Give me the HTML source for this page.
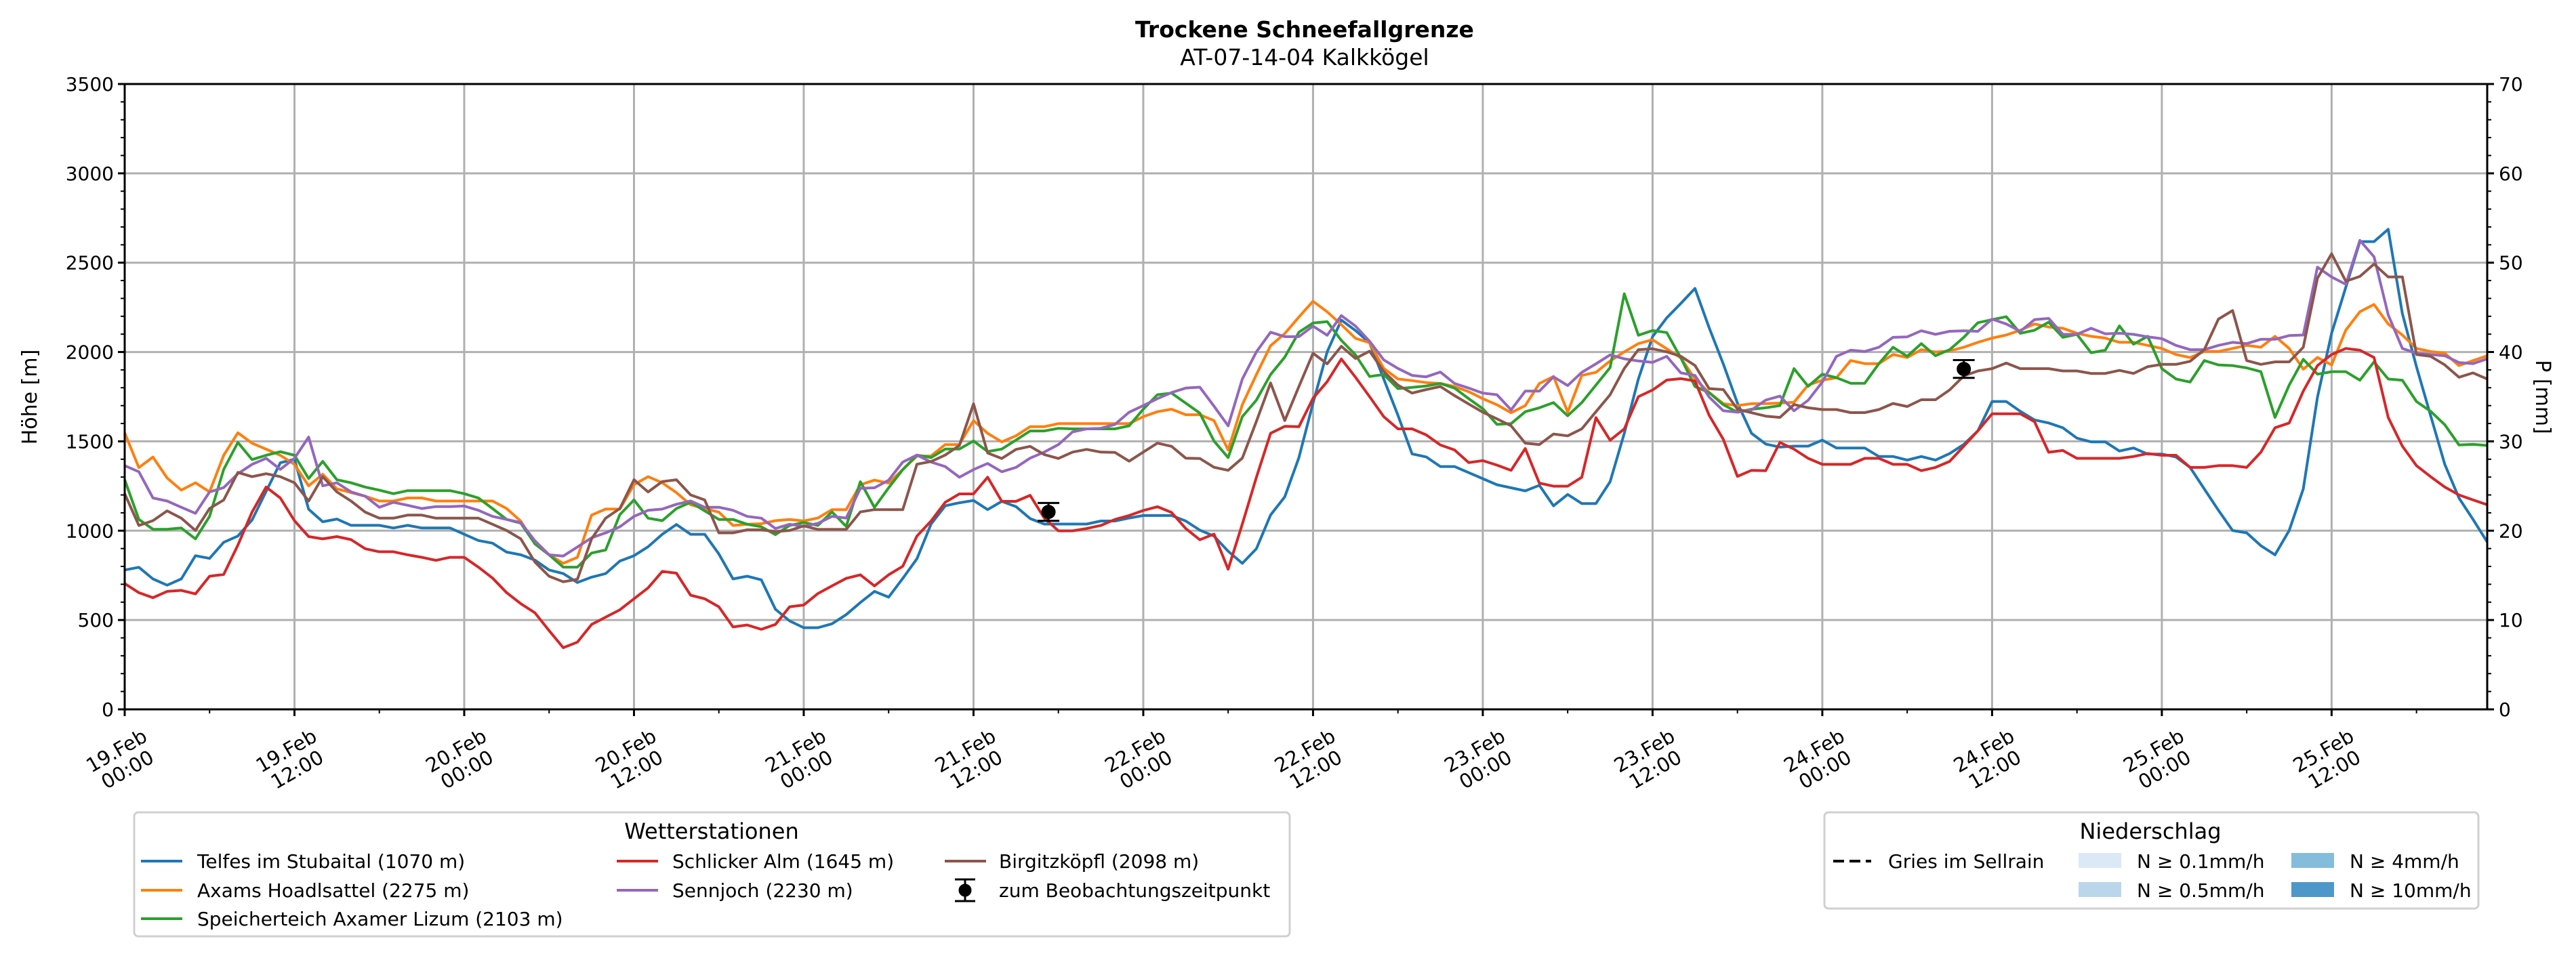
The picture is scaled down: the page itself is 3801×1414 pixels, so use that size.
<!DOCTYPE html>
<html><head><meta charset="utf-8"><style>
html,body{margin:0;padding:0;background:#fff}
svg{display:block;font-family:"DejaVu Sans","Liberation Sans",sans-serif}
</style></head><body>
<svg id="chart" width="3801" height="1414" viewBox="0 0 3801 1414" xmlns="http://www.w3.org/2000/svg">
<text x="1925" y="55" text-anchor="middle" font-size="33" font-weight="bold">Trockene Schneefallgrenze</text>
<text x="1925" y="96" text-anchor="middle" font-size="33">AT-07-14-04 Kalkkögel</text>
<g id="grid"></g>
<g id="series"></g>
<g id="axes"></g>
<text transform="translate(54,586) rotate(-90)" text-anchor="middle" font-size="30">Höhe [m]</text>
<text transform="translate(3742,586) rotate(90)" text-anchor="middle" font-size="30">P [mm]</text>
<g>
<rect x="198" y="1199" width="1705" height="183" rx="6" fill="#fff" stroke="#d0d0d0" stroke-width="3"/>
<text x="1050" y="1238" text-anchor="middle" font-size="32">Wetterstationen</text>
<g font-size="28">
<line x1="208" y1="1271" x2="269" y2="1271" stroke="#1f77b4" stroke-width="4"/>
<text x="291" y="1281">Telfes im Stubaital (1070 m)</text>
<line x1="208" y1="1314" x2="269" y2="1314" stroke="#ff7f0e" stroke-width="4"/>
<text x="291" y="1324">Axams Hoadlsattel (2275 m)</text>
<line x1="208" y1="1356" x2="269" y2="1356" stroke="#2ca02c" stroke-width="4"/>
<text x="291" y="1366">Speicherteich Axamer Lizum (2103 m)</text>
<line x1="910" y1="1271" x2="971" y2="1271" stroke="#d62728" stroke-width="4"/>
<text x="992" y="1281">Schlicker Alm (1645 m)</text>
<line x1="910" y1="1314" x2="971" y2="1314" stroke="#9467bd" stroke-width="4"/>
<text x="992" y="1324">Sennjoch (2230 m)</text>
<line x1="1394" y1="1271" x2="1455" y2="1271" stroke="#8c564b" stroke-width="4"/>
<text x="1474" y="1281">Birgitzköpfl (2098 m)</text>
<g stroke="#000" stroke-width="3">
<line x1="1424" y1="1298" x2="1424" y2="1330"/><line x1="1409" y1="1298" x2="1439" y2="1298"/><line x1="1409" y1="1330" x2="1439" y2="1330"/>
<circle cx="1424" cy="1314" r="8" fill="#000"/></g>
<text x="1474" y="1324">zum Beobachtungszeitpunkt</text>
</g></g>
<g>
<rect x="2692" y="1199" width="965" height="142" rx="6" fill="#fff" stroke="#d0d0d0" stroke-width="3"/>
<text x="3173" y="1238" text-anchor="middle" font-size="32">Niederschlag</text>
<g font-size="28">
<line x1="2705" y1="1271" x2="2761" y2="1271" stroke="#000" stroke-width="4" stroke-dasharray="16,8"/>
<text x="2786" y="1281">Gries im Sellrain</text>
<rect x="3067" y="1259" width="63" height="22" fill="#dbe9f6"/>
<text x="3153" y="1281">N ≥ 0.1mm/h</text>
<rect x="3067" y="1302" width="63" height="22" fill="#bad6eb"/>
<text x="3153" y="1324">N ≥ 0.5mm/h</text>
<rect x="3381" y="1259" width="63" height="22" fill="#84bcdb"/>
<text x="3467" y="1281">N ≥ 4mm/h</text>
<rect x="3381" y="1302" width="63" height="22" fill="#4d98c9"/>
<text x="3467" y="1324">N ≥ 10mm/h</text>
</g></g>
</svg>
<script>
const xTickLabels1 = ["19.Feb","19.Feb","20.Feb","20.Feb","21.Feb","21.Feb","22.Feb","22.Feb","23.Feb","23.Feb","24.Feb","24.Feb","25.Feb","25.Feb"];
const xTickLabels2 = ["00:00","12:00","00:00","12:00","00:00","12:00","00:00","12:00","00:00","12:00","00:00","12:00","00:00","12:00"];
const yTicks = [0,500,1000,1500,2000,2500,3000,3500];
const y2Ticks = [0,10,20,30,40,50,60,70];
const telfes = [780,795,730,695,730,860,845,935,970,1060,1220,1380,1400,1120,1050,1065,1030,1030,1030,1015,1030,1015,1015,1015,980,945,930,880,865,835,780,760,710,740,760,830,860,910,980,1035,980,980,870,730,745,725,560,495,
457,457,479,530,598,660,628,733,843,1037,1139,1156,1169,1118,1164,1135,1068,1037,1037,1037,1037,1054,1054,1071,1085,1085,1085,1054,1003,970,885,817,899,1088,1189,
1409,1714,2001,2179,2120,2052,1849,1646,1430,1413,1359,1359,1325,1291,1257,1240,1223,1254,1139,1203,1152,1152,1274,1545,1849,2086,2191,2272,2356,2136,1933,1714,1545,1485,1468,
1473,1473,1507,1463,1463,1463,1415,1415,1395,1415,1395,1432,1483,1559,1723,1723,1668,1620,1603,1576,1518,1497,1497,1446,1463,1429,1429,1412,1354,1234,1114,1001,988,916,865,1001,1234,1747,2105,2362,2618,2618,2687,2215,1918,1644,1371,1183,1063,937];
const axams = [1548,1353,1412,1295,1227,1268,1217,1422,1548,1490,1456,1422,1371,1251,1316,1234,1213,1193,1166,1166,1183,1183,1166,1166,1166,1166,1166,1124,1053,926,865,817,851,1087,1121,1121,1258,1302,1268,1213,1145,1124,1104,1029,1036,1039,1056,1063,
1054,1071,1118,1118,1257,1283,1266,1342,1418,1418,1482,1482,1616,1545,1497,1531,1582,1582,1599,1599,1599,1599,1599,1599,1638,1666,1680,1649,1649,1616,1452,1705,1874,2035,2103,
2196,2284,2225,2153,2077,2052,1908,1849,1840,1829,1824,1807,1778,1739,1705,1660,1700,1824,1863,1663,1869,1886,1950,2001,2047,2069,2018,1967,1849,1773,1711,1700,1711,1711,1714,
1719,1815,1842,1856,1952,1935,1935,1986,1969,2013,2000,2006,2027,2054,2078,2095,2122,2157,2140,2133,2105,2088,2078,2054,2054,2037,2020,1986,1969,2003,2003,2020,2037,2027,2088,2020,1904,1969,1928,2122,2225,2266,2157,2095,2020,2003,1993,1924,1952,1979];
const speicherteich = [1285,1063,1008,1008,1015,954,1080,1343,1494,1398,1422,1442,1422,1292,1388,1285,1268,1244,1227,1207,1224,1224,1224,1224,1207,1183,1124,1063,1042,926,865,796,796,875,892,1090,1172,1070,1056,1124,1159,1111,1063,1063,1036,1022,978,1029,
1046,1029,1105,1024,1274,1130,1240,1342,1423,1409,1457,1457,1502,1443,1457,1507,1558,1558,1573,1570,1570,1570,1570,1587,1680,1761,1770,1714,1658,1502,1409,1638,1731,1874,1971,
2111,2162,2170,2065,1984,1863,1874,1795,1802,1810,1824,1798,1739,1683,1595,1599,1666,1688,1717,1643,1717,1815,1913,2326,2094,2120,2109,1967,1807,1773,1705,1663,1680,1688,1700,
1907,1808,1876,1856,1825,1825,1935,2027,1976,2047,1979,2013,2082,2164,2181,2198,2105,2122,2167,2082,2099,1996,2010,2146,2044,2088,1907,1849,1832,1952,1928,1924,1911,1890,1634,1815,1959,1876,1890,1890,1842,1945,1849,1842,1723,1668,1593,1480,1483,1477];
const schlicker = [704,653,625,660,666,646,745,755,919,1104,1244,1183,1056,967,954,967,950,899,882,882,865,851,834,851,851,796,735,653,591,540,441,345,376,475,516,557,619,680,772,762,639,619,574,461,472,448,475,574,
584,648,691,733,753,691,753,801,970,1054,1159,1206,1206,1299,1164,1164,1198,1071,999,999,1012,1029,1063,1085,1113,1134,1102,1012,949,981,784,1037,1299,1545,1584,
1582,1741,1834,1961,1859,1750,1638,1570,1570,1536,1480,1452,1381,1392,1367,1338,1460,1266,1249,1249,1299,1633,1506,1570,1750,1787,1843,1851,1838,1646,1511,1304,1338,1336,1494,
1456,1405,1371,1371,1371,1405,1405,1371,1371,1336,1354,1388,1473,1559,1654,1654,1654,1610,1439,1449,1405,1405,1405,1405,1415,1432,1422,1422,1354,1354,1364,1364,1354,1439,1576,1603,1781,1924,1986,2020,2010,1969,1634,1473,1364,1302,1244,1200,1172,1145];
const sennjoch = [1364,1330,1183,1166,1131,1097,1217,1241,1319,1371,1405,1343,1405,1524,1251,1268,1217,1193,1131,1159,1142,1124,1135,1135,1138,1114,1080,1063,1046,943,865,858,909,960,988,1022,1080,1114,1121,1148,1166,1131,1131,1114,1080,1070,1012,1036,
1024,1041,1080,1071,1237,1240,1283,1384,1423,1384,1359,1299,1342,1376,1330,1354,1406,1440,1482,1553,1570,1573,1595,1663,1700,1739,1773,1798,1803,1697,1587,1849,2001,2111,2086,
2086,2145,2094,2204,2145,2060,1956,1908,1869,1861,1888,1824,1798,1770,1761,1676,1781,1781,1861,1812,1886,1934,1984,1962,1950,1942,1976,1883,1869,1748,1671,1663,1676,1731,1753,
1671,1730,1832,1976,2010,2003,2027,2082,2085,2119,2099,2116,2119,2116,2184,2157,2116,2181,2188,2099,2099,2133,2102,2105,2099,2085,2075,2037,2013,2013,2037,2054,2047,2071,2071,2092,2095,2475,2420,2379,2625,2533,2208,2020,1993,1986,1979,1941,1935,1962];
const birgitzkoepfl = [1207,1029,1056,1111,1070,1001,1124,1172,1326,1302,1319,1302,1268,1166,1302,1217,1166,1104,1070,1070,1087,1087,1070,1070,1070,1070,1036,1001,954,824,745,714,728,954,1070,1124,1285,1217,1275,1285,1200,1172,988,988,1005,1005,995,1001,
1027,1007,1007,1007,1105,1118,1118,1118,1372,1387,1423,1477,1710,1435,1404,1455,1472,1426,1404,1440,1455,1440,1438,1389,1440,1490,1472,1406,1404,1355,1338,1406,1612,1827,1616,
1807,1993,1934,2032,1964,2005,1891,1815,1770,1790,1807,1756,1709,1663,1626,1587,1490,1482,1541,1531,1570,1666,1761,1908,2013,2018,2001,1976,1925,1795,1790,1680,1660,1641,1634,
1706,1688,1678,1678,1661,1661,1678,1712,1695,1733,1733,1788,1866,1894,1907,1938,1907,1907,1907,1894,1894,1880,1880,1897,1880,1918,1931,1931,1948,2013,2184,2232,1952,1931,1945,1945,2027,2413,2550,2396,2423,2492,2420,2420,1986,1976,1928,1859,1883,1849];
const obsHours = [65.3,130];
const obsValues = [1105,1905];
const obsErr = [50,50];

const NS="http://www.w3.org/2000/svg";
const X0=184,X1=3670,Y0=1047,Y1=124,TMAX=167,VMAX=3500,PMAX=70;
const xs=t=>X0+(X1-X0)*t/TMAX;
const ys=v=>Y0-(Y0-Y1)*v/VMAX;
const y2s=p=>Y0-(Y0-Y1)*p/PMAX;
function mk(tag,attrs,parent){const e=document.createElementNS(NS,tag);for(const k in attrs)e.setAttribute(k,attrs[k]);parent.appendChild(e);return e;}
const grid=document.getElementById('grid'),axes=document.getElementById('axes'),ser=document.getElementById('series');
xTickLabels1.forEach((l,i)=>{const x=xs(i*12);
 const g=mk('line',{x1:x,x2:x,y1:Y1,y2:Y0,stroke:'#b0b0b0','stroke-width':3},grid);
 
 });
yTicks.forEach(v=>{const y=ys(v);
 const g=mk('line',{x1:X0,x2:X1,y1:y,y2:y,stroke:'#b0b0b0','stroke-width':3},grid);
 
 });
const allSeries=[[telfes,'#1f77b4','series-telfes'],[axams,'#ff7f0e','series-axams'],[speicherteich,'#2ca02c','series-speicherteich'],[schlicker,'#d62728','series-schlicker'],[sennjoch,'#9467bd','series-sennjoch'],[birgitzkoepfl,'#8c564b','series-birgitzkoepfl']];
allSeries.forEach(([d,c,n])=>{
 const pts=d.map((v,i)=>xs(i).toFixed(1)+','+ys(v).toFixed(1)).join(' ');
 const p=mk('polyline',{points:pts,fill:'none',stroke:c,'stroke-width':4,'stroke-linejoin':'round'},ser);
 
 });
obsHours.forEach((t,i)=>{const x=xs(t),y=ys(obsValues[i]),ya=ys(obsValues[i]+obsErr[i]),yb=ys(obsValues[i]-obsErr[i]);
 const g=mk('g',{stroke:'#000','stroke-width':3},ser);
 
 
 mk('line',{x1:x,x2:x,y1:ya,y2:yb},g);mk('line',{x1:x-16,x2:x+16,y1:ya,y2:ya},g);mk('line',{x1:x-16,x2:x+16,y1:yb,y2:yb},g);
 mk('circle',{cx:x,cy:y,r:9,fill:'#000'},g);});
const sp=mk('rect',{x:X0,y:Y1,width:X1-X0,height:Y0-Y1,fill:'none',stroke:'#000','stroke-width':3},axes);


for(let v=0;v<=VMAX;v+=100){const y=ys(v),maj=v%500===0;mk('line',{x1:X0,x2:X0-(maj?10:6),y1:y,y2:y,stroke:'#000','stroke-width':maj?3:2},axes);}
yTicks.forEach(v=>{const t=mk('text',{x:X0-16,y:ys(v)+10,'text-anchor':'end','font-size':28},axes);t.textContent=v;
 
 });
for(let p=0;p<=PMAX;p+=2){const y=y2s(p),maj=p%10===0;mk('line',{x1:X1,x2:X1+(maj?10:6),y1:y,y2:y,stroke:'#000','stroke-width':maj?3:2},axes);}
y2Ticks.forEach(p=>{const t=mk('text',{x:X1+17,y:y2s(p)+10,'font-size':28},axes);t.textContent=p;
 
 });
for(let h=0;h<=TMAX;h+=6){const x=xs(h),maj=h%12===0;mk('line',{x1:x,x2:x,y1:Y0,y2:Y0+(maj?10:6),stroke:'#000','stroke-width':maj?3:2},axes);}
xTickLabels1.forEach((l,i)=>{const x=xs(i*12);
 const t=mk('text',{transform:`translate(${x-4},1122) rotate(-30)`,'text-anchor':'middle','font-size':29},axes);
 
 
 const a=mk('tspan',{x:0,y:-6},t);a.textContent=l;
 const b=mk('tspan',{x:0,y:26},t);b.textContent=xTickLabels2[i];});
</script>
</body></html>
